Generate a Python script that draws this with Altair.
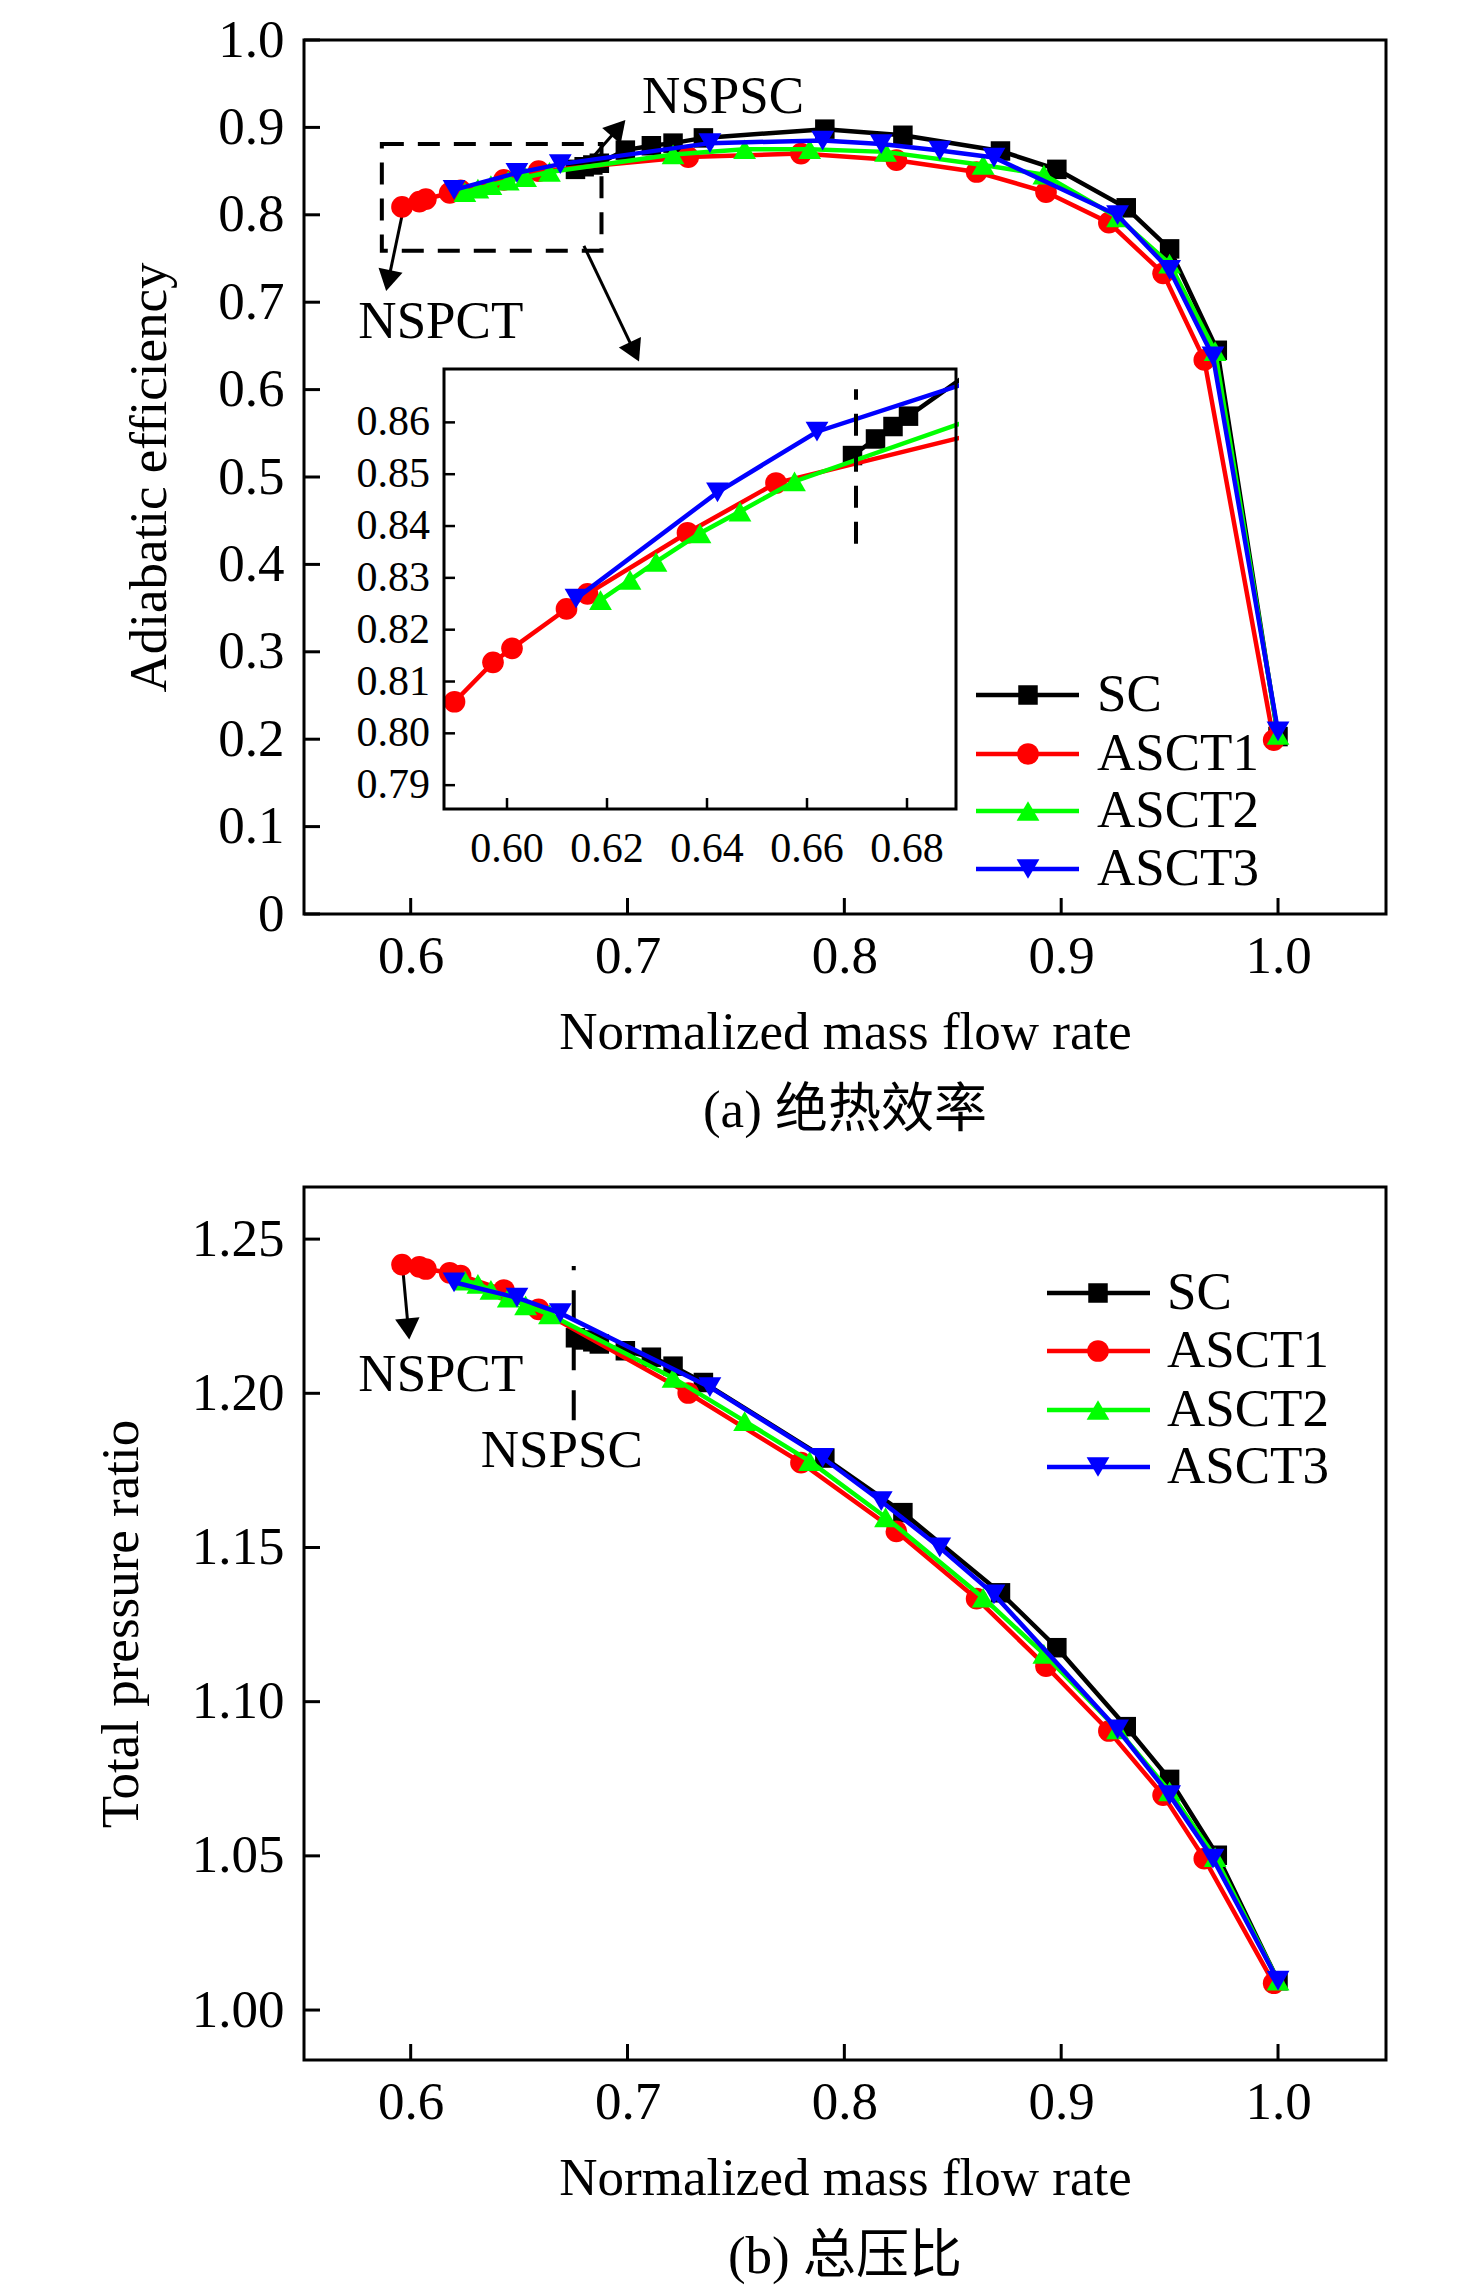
import math
import altair as alt
import pandas as pd

# ---------------- data ----------------
SERIES = ["SC", "ASCT1", "ASCT2", "ASCT3"]
COLORS = ["#000000", "#ff0000", "#00ff00", "#0000ff"]
SHAPES = ["square", "circle", "triangle-up", "triangle-down"]
SIZES = [380, 470, 520, 520]

# normalized mass flow rate (shared by both panels)
sc_x = [0.676, 0.680, 0.684, 0.687, 0.699, 0.711, 0.721, 0.735, 0.791, 0.827, 0.872, 0.898, 0.930, 0.950, 0.972, 1.000]
asct1_x = [0.596, 0.604, 0.607, 0.618, 0.623, 0.643, 0.659, 0.728, 0.780, 0.824, 0.861, 0.893, 0.922, 0.947, 0.966, 0.998]
asct2_x = [0.625, 0.631, 0.637, 0.645, 0.653, 0.664, 0.721, 0.754, 0.784, 0.819, 0.864, 0.892, 0.926, 0.950, 0.971, 1.000]
asct3_x = [0.620, 0.649, 0.669, 0.738, 0.790, 0.817, 0.844, 0.869, 0.926, 0.950, 0.970, 1.000]

# (a) adiabatic efficiency
sc_eff = [0.852, 0.855, 0.857, 0.859, 0.874, 0.879, 0.882, 0.888, 0.898, 0.891, 0.873, 0.852, 0.808, 0.761, 0.645, 0.203]
asct1_eff = [0.809, 0.815, 0.818, 0.825, 0.828, 0.840, 0.850, 0.866, 0.870, 0.8625, 0.849, 0.826, 0.791, 0.733, 0.634, 0.199]
asct2_eff = [0.826, 0.830, 0.834, 0.839, 0.843, 0.849, 0.869, 0.875, 0.875, 0.872, 0.857, 0.846, 0.797, 0.744, 0.644, 0.205]
asct3_eff = [0.8285, 0.848, 0.858, 0.882, 0.885, 0.881, 0.8735, 0.8655, 0.7995, 0.737, 0.638, 0.209]

# (b) total pressure ratio
sc_pr = [1.2180, 1.2173, 1.2167, 1.2160, 1.2138, 1.2117, 1.2088, 1.2035, 1.1790, 1.1613, 1.1353, 1.1175, 1.0919, 1.0748, 1.0502, 1.0095]
asct1_pr = [1.2417, 1.2410, 1.2403, 1.2391, 1.2382, 1.2335, 1.2272, 1.2001, 1.1775, 1.1552, 1.1334, 1.1115, 1.0905, 1.0697, 1.0491, 1.0087]
asct2_pr = [1.2365, 1.2355, 1.2335, 1.2310, 1.2285, 1.2256, 1.2050, 1.1910, 1.1780, 1.1598, 1.1337, 1.1155, 1.0910, 1.0709, 1.0496, 1.0095]
asct3_pr = [1.2360, 1.2310, 1.2260, 1.2020, 1.1791, 1.1650, 1.1500, 1.1348, 1.0910, 1.0697, 1.0491, 1.0095]

# inset (zoom of the efficiency curve)
in_sc_x = [0.6691, 0.6737, 0.6772, 0.6803, 0.699]
in_sc_y = [0.8536, 0.8568, 0.8592, 0.8612, 0.874]
in_asct1_x = [0.5895, 0.5972, 0.6010, 0.6119, 0.6161, 0.6361, 0.6538, 0.7284]
in_asct1_y = [0.8061, 0.8137, 0.8164, 0.8240, 0.8269, 0.8387, 0.8483, 0.866]
in_asct2_x = [0.6187, 0.6246, 0.6298, 0.6386, 0.6466, 0.6575, 0.721]
in_asct2_y = [0.8257, 0.8296, 0.8331, 0.8386, 0.8428, 0.8486, 0.870]
in_asct3_x = [0.6138, 0.6421, 0.6620, 0.738]
in_asct3_y = [0.8260, 0.8465, 0.8582, 0.882]

# ticks
X_TICKS = [0.6, 0.7, 0.8, 0.9, 1.0]
EFF_TICKS = [0.0, 0.1, 0.2, 0.3, 0.4, 0.5, 0.6, 0.7, 0.8, 0.9, 1.0]
PR_TICKS = [1.00, 1.05, 1.10, 1.15, 1.20, 1.25]
IN_X_TICKS = [0.60, 0.62, 0.64, 0.66, 0.68]
IN_Y_TICKS = [0.79, 0.80, 0.81, 0.82, 0.83, 0.84, 0.85, 0.86]

# annotations (panel a)
a_box = [0.5867, 0.688, 0.759, 0.881]          # x0, x1, y0, y1
a_arrow_x0 = [0.5963, 0.6779, 0.6799]
a_arrow_y0 = [0.8027, 0.8486, 0.7644]
a_arrow_x1 = [0.5897, 0.6958, 0.7032]
a_arrow_y1 = [0.7247, 0.8993, 0.6431]
a_text = ["NSPSC", "NSPCT"]
a_text_x = [0.7441, 0.6139]
a_text_y = [0.9348, 0.6776]
in_nspsc = [0.6698, 0.8366, 0.8664]            # x, y0, y1
# annotations (panel b)
b_arrow_x0 = [0.5963]
b_arrow_y0 = [1.2408]
b_arrow_x1 = [0.5989]
b_arrow_y1 = [1.2209]
b_nspsc = [0.6752, 1.1913, 1.2413]
b_text = ["NSPCT", "NSPSC"]
b_text_x = [0.6139, 0.6697]
b_text_y = [1.2060, 1.1813]

# ---------------- layout / style ----------------
FONT = "Liberation Serif"
CJK = "Liberation Serif, Noto Sans CJK SC"
FS = 53
W, H1, H2 = 1082, 874, 873
XDOM = [0.5508, 1.0498]
EDOM = [0.0, 1.0]
PDOM = [0.9838, 1.2669]
IN_XDOM = [0.5874, 0.6898]
IN_YDOM = [0.7854, 0.8703]
IX0, IX1, IY0, IY1 = 140, 652, 329, 769
TICK = 16
LW = 4.5


def x_axis():
    return alt.Axis(values=X_TICKS, format=".1f", title="Normalized mass flow rate", orient="bottom",
                    ticks=False, domain=False, grid=False, labelFlush=False, labelOverlap=False,
                    labelFont=FONT, labelFontSize=FS, labelColor="black", labelPadding=16,
                    titleFont=FONT, titleFontSize=FS, titleFontWeight="normal", titleColor="black",
                    titlePadding=23)


def y_axis(values, title, fmt, pad, expr=None):
    kw = dict(values=values, title=title, orient="left", ticks=False, domain=False, grid=False,
              labelFlush=False, labelOverlap=False, labelFont=FONT, labelFontSize=FS,
              labelColor="black", labelPadding=20, titleFont=FONT, titleFontSize=FS,
              titleFontWeight="normal", titleColor="black", titlePadding=pad)
    if expr:
        kw["labelExpr"] = expr
    else:
        kw["format"] = fmt
    return alt.Axis(**kw)


XA = x_axis()
YA1 = y_axis(EFF_TICKS, "Adiabatic efficiency", ".1f", 41,
             "datum.value == 0 ? '0' : format(datum.value, '.1f')")
YA2 = y_axis(PR_TICKS, "Total pressure ratio", ".2f", 43)


def X(f="x"):
    return alt.X(f"{f}:Q", scale=alt.Scale(domain=XDOM, nice=False, zero=False), axis=XA)


def Y1(f="y"):
    return alt.Y(f"{f}:Q", scale=alt.Scale(domain=EDOM, nice=False, zero=False), axis=YA1)


def Y2(f="y"):
    return alt.Y(f"{f}:Q", scale=alt.Scale(domain=PDOM, nice=False, zero=False), axis=YA2)


def IXe(f="x"):
    return alt.X(f"{f}:Q", scale=alt.Scale(domain=IN_XDOM, range=[IX0, IX1], nice=False, zero=False), axis=None)


def IYe(f="y"):
    return alt.Y(f"{f}:Q", scale=alt.Scale(domain=IN_YDOM, range=[IY1, IY0], nice=False, zero=False), axis=None)


def series_layers(xs_list, ys_list, xe, ye):
    out = []
    for col, shp, sz, xs, ys in zip(COLORS, SHAPES, SIZES, xs_list, ys_list):
        base = alt.Chart(pd.DataFrame({"x": xs, "y": ys}))
        out.append(base.mark_line(color=col, strokeWidth=LW).encode(x=xe(), y=ye()))
        out.append(base.mark_point(shape=shp, filled=True, color=col, size=sz, opacity=1,
                                   strokeWidth=0).encode(x=xe(), y=ye()))
    return out


def arrows(x0, y0, x1, y1, xe, ye, xdom, ydom, h):
    sx = W / (xdom[1] - xdom[0])
    sy = h / (ydom[1] - ydom[0])
    rows, heads = [], []
    for i, (a, b, c, d) in enumerate(zip(x0, y0, x1, y1)):
        rows += [{"id": i, "x": a, "y": b}, {"id": i, "x": c, "y": d}]
        dxp = (c - a) * sx
        dyp = -(d - b) * sy
        ang = math.degrees(math.atan2(dxp, -dyp)) % 360
        heads.append({"x": c, "y": d, "ang": ang})
    line = alt.Chart(pd.DataFrame(rows)).mark_line(color="black", strokeWidth=3).encode(
        x=xe(), y=ye(), detail="id:N")
    head = alt.Chart(pd.DataFrame(heads)).mark_point(
        shape="triangle-up", filled=True, color="black", size=600, opacity=1, strokeWidth=0).encode(
        x=xe(), y=ye(), angle=alt.Angle("ang:Q", scale=None))
    return [line, head]


def texts(labels, xs, ys, xe, ye):
    return alt.Chart(pd.DataFrame({"x": xs, "y": ys, "t": labels})).mark_text(
        font=FONT, fontSize=FS, color="black", align="center", baseline="middle").encode(
        x=xe(), y=ye(), text="t:N")


def tick_layers(xe, ye, yticks, h):
    xt = alt.Chart(pd.DataFrame({"x": X_TICKS})).mark_rule(color="black", strokeWidth=3).encode(
        x=xe(), y=alt.value(h), y2=alt.value(h - TICK))
    yt = alt.Chart(pd.DataFrame({"y": yticks})).mark_rule(color="black", strokeWidth=3).encode(
        y=ye(), x=alt.value(0), x2=alt.value(TICK))
    return [xt, yt]


def legend_layers(x_line0, x_line1, x_mark, x_text, rows_y):
    out = []
    for name, col, shp, sz, ry in zip(SERIES, COLORS, SHAPES, SIZES, rows_y):
        d = alt.Chart(pd.DataFrame({"s": [name]}))
        out.append(d.mark_rule(color=col, strokeWidth=LW).encode(
            x=alt.value(x_line0), x2=alt.value(x_line1), y=alt.value(ry)))
        out.append(d.mark_point(shape=shp, filled=True, color=col, size=sz, opacity=1,
                                strokeWidth=0).encode(x=alt.value(x_mark), y=alt.value(ry)))
        out.append(d.mark_text(font=FONT, fontSize=FS, color="black", align="left",
                               baseline="middle").encode(
            x=alt.value(x_text), y=alt.value(ry), text="s:N"))
    return out


# ---------------- panel (a) ----------------
box = alt.Chart(pd.DataFrame({"x": [a_box[0]], "x2": [a_box[1]], "y": [a_box[2]], "y2": [a_box[3]]})
                ).mark_rect(filled=False, stroke="black", strokeWidth=4, strokeDash=[22, 14]).encode(
    x=X(), x2="x2:Q", y=Y1(), y2="y2:Q")

main_a = alt.layer(
    box,
    *arrows(a_arrow_x0, a_arrow_y0, a_arrow_x1, a_arrow_y1, X, Y1, XDOM, EDOM, H1),
    texts(a_text, a_text_x, a_text_y, X, Y1),
    *series_layers([sc_x, asct1_x, asct2_x, asct3_x], [sc_eff, asct1_eff, asct2_eff, asct3_eff], X, Y1),
    *tick_layers(X, Y1, EFF_TICKS, H1),
)

inset_data = alt.layer(
    *series_layers([in_sc_x, in_asct1_x, in_asct2_x, in_asct3_x],
                   [in_sc_y, in_asct1_y, in_asct2_y, in_asct3_y], IXe, IYe)
)

mask = alt.Chart(pd.DataFrame({"k": [0]})).mark_rect(color="white").encode(
    x=alt.value(IX1 + 3), x2=alt.value(IX1 + 270), y=alt.value(245), y2=alt.value(500))

in_frame = alt.Chart(pd.DataFrame({"k": [0]})).mark_rect(
    filled=False, stroke="black", strokeWidth=3).encode(
    x=alt.value(IX0), x2=alt.value(IX1), y=alt.value(IY0), y2=alt.value(IY1))
in_xt = alt.Chart(pd.DataFrame({"x": IN_X_TICKS})).mark_rule(color="black", strokeWidth=2.5).encode(
    x=IXe(), y=alt.value(IY1), y2=alt.value(IY1 - 11))
in_yt = alt.Chart(pd.DataFrame({"y": IN_Y_TICKS})).mark_rule(color="black", strokeWidth=2.5).encode(
    y=IYe(), x=alt.value(IX0), x2=alt.value(IX0 + 11))
in_xl = alt.Chart(pd.DataFrame({"x": IN_X_TICKS})).mark_text(
    font=FONT, fontSize=42, color="black", align="center", baseline="middle").encode(
    x=IXe(), y=alt.value(IY1 + 40), text=alt.Text("x:Q", format=".2f"))
in_yl = alt.Chart(pd.DataFrame({"y": IN_Y_TICKS})).mark_text(
    font=FONT, fontSize=42, color="black", align="right", baseline="middle").encode(
    y=IYe(), x=alt.value(IX0 - 14), text=alt.Text("y:Q", format=".2f"))
in_dash = alt.Chart(pd.DataFrame({"x": [in_nspsc[0]], "y": [in_nspsc[1]], "y2": [in_nspsc[2]]})
                    ).mark_rule(color="black", strokeWidth=4, strokeDash=[22, 14]).encode(
    x=IXe(), y=IYe(), y2="y2:Q")
inset_decor = alt.layer(in_frame, in_xt, in_yt, in_xl, in_yl, in_dash)

top = alt.layer(
    inset_data, mask, inset_decor, main_a,
    *legend_layers(672, 775, 724, 793, [655, 714, 771, 829]),
).resolve_scale(x="independent", y="independent").properties(
    width=W, height=H1,
    title=alt.TitleParams("(a) 绝热效率", orient="bottom", anchor="middle", frame="group",
                          font=CJK, fontSize=FS, fontWeight="normal", color="black", offset=26),
)

# ---------------- panel (b) ----------------
b_dash = alt.Chart(pd.DataFrame({"x": [b_nspsc[0]], "y": [b_nspsc[1]], "y2": [b_nspsc[2]]})
                   ).mark_rule(color="black", strokeWidth=4, strokeDash=[30, 20]).encode(
    x=X(), y=Y2(), y2="y2:Q")

bottom = alt.layer(
    b_dash,
    *arrows(b_arrow_x0, b_arrow_y0, b_arrow_x1, b_arrow_y1, X, Y2, XDOM, PDOM, H2),
    texts(b_text, b_text_x, b_text_y, X, Y2),
    *series_layers([sc_x, asct1_x, asct2_x, asct3_x], [sc_pr, asct1_pr, asct2_pr, asct3_pr], X, Y2),
    *tick_layers(X, Y2, PR_TICKS, H2),
    *legend_layers(743, 846, 794, 863, [106, 164, 223, 280]),
).properties(
    width=W, height=H2,
    title=alt.TitleParams("(b) 总压比", orient="bottom", anchor="middle", frame="group",
                          font=CJK, fontSize=FS, fontWeight="normal", color="black", offset=26),
)

chart = alt.vconcat(top, bottom, spacing=45).properties(
    padding={"left": 85, "top": 4, "right": 10, "bottom": 0},
    background="white",
).configure_view(stroke="black", strokeWidth=3)

chart.save("out.html", embed_options={"renderer": "svg", "actions": False})
